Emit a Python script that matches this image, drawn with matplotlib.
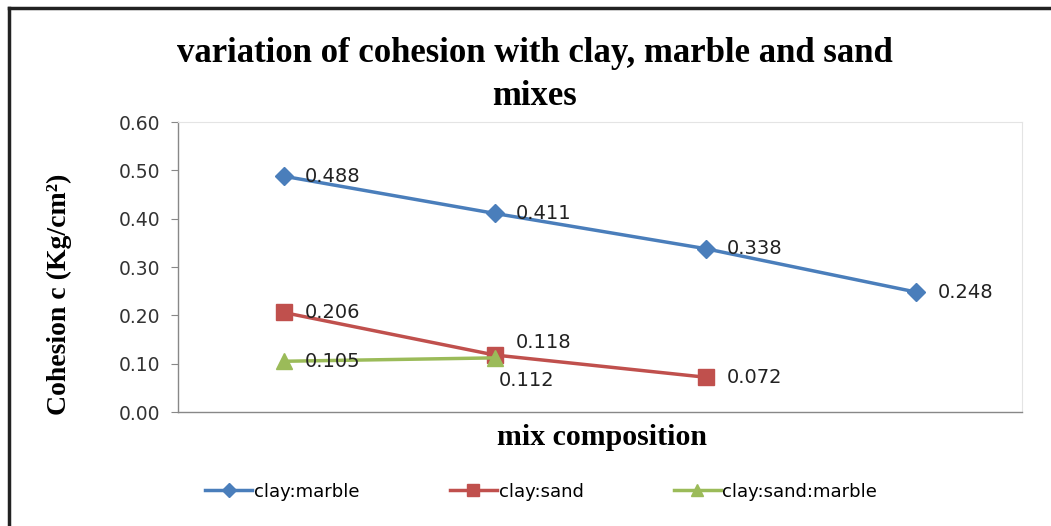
import matplotlib
matplotlib.use('Agg')
import matplotlib.pyplot as plt
from matplotlib.lines import Line2D

# Значения сцепления для смесей
categories = ['1', '2', '3', '4']
clay_marble = [0.488, 0.411, 0.338, 0.248]
clay_sand = [0.206, 0.118, 0.072]
clay_sand_marble = [0.105, 0.112]
y_ticks = [0.00, 0.10, 0.20, 0.30, 0.40, 0.50, 0.60]

blue = '#4A7EBB'
red = '#C0504D'
green = '#9BBB59'

fig = plt.figure(figsize=(10.51, 5.26), dpi=100)
ax = fig.add_axes([0.1694, 0.2167, 0.8030, 0.5513])

x_all = list(range(1, len(categories) + 1))
ax.plot(x_all[:len(clay_marble)], clay_marble, color=blue, linewidth=2.5,
        marker='D', markersize=9, label='clay:marble')
ax.plot(x_all[:len(clay_sand)], clay_sand, color=red, linewidth=2.5,
        marker='s', markersize=11, label='clay:sand')
ax.plot(x_all[:len(clay_sand_marble)], clay_sand_marble, color=green, linewidth=2.5,
        marker='^', markersize=11, label='clay:sand:marble')

# Подписи значений справа от маркеров
def label_points(xs, ys, offsets=None):
    for i, (xv, yv) in enumerate(zip(xs, ys)):
        dx, dy = 15, 0
        if offsets and i in offsets:
            dx, dy = offsets[i]
        ax.annotate(f'{yv:.3f}', (xv, yv), xytext=(dx, dy), textcoords='offset points',
                    ha='left', va='center', fontsize=14, color='#222222')

label_points(x_all, clay_marble)
label_points(x_all, clay_sand, {1: (15, 9)})
label_points(x_all, clay_sand_marble, {1: (3, -16)})

ax.set_xlim(0.5, 4.5)
ax.set_ylim(0, 0.6)
ax.set_yticks(y_ticks)
ax.set_yticklabels([f'{t:.2f}' for t in y_ticks], fontsize=13.5, color='#333333')
ax.set_xticks([])
ax.tick_params(axis='y', direction='out', length=5, color='#888888', pad=8)

for side in ['left', 'bottom']:
    ax.spines[side].set_color('#888888')
    ax.spines[side].set_linewidth(1.0)
for side in ['top', 'right']:
    ax.spines[side].set_color('#E4E4E4')
    ax.spines[side].set_linewidth(0.8)

fig.text(0.509, 0.857, 'variation of cohesion with clay, marble and sand\nmixes',
         ha='center', va='center', fontsize=25, fontweight='bold',
         family='Liberation Serif', linespacing=1.38)
fig.text(0.573, 0.169, 'mix composition', ha='center', va='center',
         fontsize=21.5, fontweight='bold', family='Liberation Serif')
fig.text(0.057, 0.44, 'Cohesion c (Kg/cm²)', ha='center', va='center',
         rotation=90, fontsize=20, fontweight='bold', family='Liberation Serif')

fig.legend(loc='center', bbox_to_anchor=(0.515, 0.065), ncol=3, frameon=False,
           fontsize=13, handlelength=2.6, columnspacing=5.0, handletextpad=0.1,
           markerscale=0.8)

# Рамка слева и сверху
fig.add_artist(Line2D([0.009, 0.009], [0, 0.985], color='#222222', linewidth=2.5,
                      transform=fig.transFigure))
fig.add_artist(Line2D([0.009, 1], [0.985, 0.985], color='#222222', linewidth=2.5,
                      transform=fig.transFigure))

plt.savefig('out.png', dpi=100)
